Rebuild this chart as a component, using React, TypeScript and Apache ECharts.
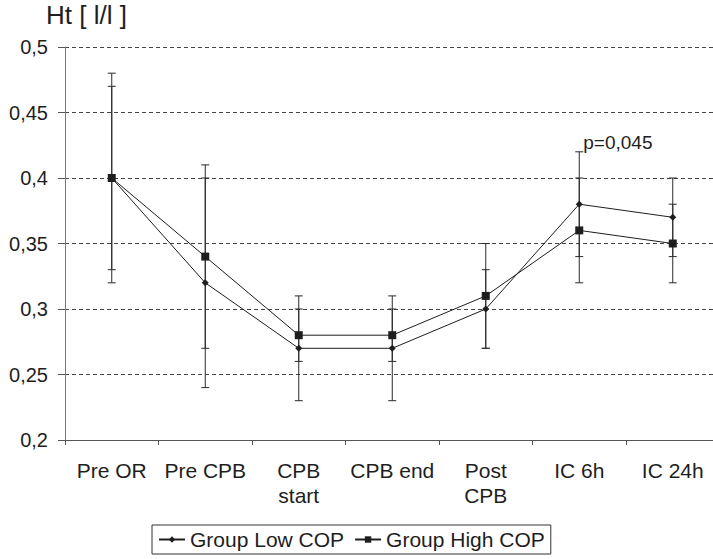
import React, { useEffect, useRef } from "react";
import * as echarts from "echarts";

// Haematocrit (Ht, l/l) per time point, mean ± SD for both groups
const categories = ["Pre OR", "Pre CPB", "CPB\nstart", "CPB end", "Post\nCPB", "IC 6h", "IC 24h"];
const lowMean = [0.4, 0.32, 0.27, 0.27, 0.3, 0.38, 0.37];
const lowErr = [0.08, 0.08, 0.04, 0.04, 0.03, 0.04, 0.03];
const highMean = [0.4, 0.34, 0.28, 0.28, 0.31, 0.36, 0.35];
const highErr = [0.07, 0.07, 0.02, 0.02, 0.04, 0.04, 0.03];
const seriesNames = ["Group Low COP", "Group High COP"];
const yTicks = { min: 0.2, max: 0.5, interval: 0.05 };
const pNote = { text: "p=0,045", index: 5 };

const FONT = "'Liberation Sans', Arial, Helvetica, sans-serif";
const INK = "#1e1e1e";

function errorRows(mean: number[], err: number[]) {
  return mean.map((m, i) => [i, m - err[i], m + err[i]]);
}

function renderErrorBar(params: any, api: any) {
  const i = api.value(0);
  const lo = api.coord([i, api.value(1)]);
  const hi = api.coord([i, api.value(2)]);
  const half = 4;
  const style = { stroke: "#2a2a2a", lineWidth: 1 };
  return {
    type: "group",
    children: [
      { type: "line", shape: { x1: hi[0], y1: hi[1], x2: lo[0], y2: lo[1] }, style },
      { type: "line", shape: { x1: hi[0] - half, y1: hi[1], x2: hi[0] + half, y2: hi[1] }, style },
      { type: "line", shape: { x1: lo[0] - half, y1: lo[1], x2: lo[0] + half, y2: lo[1] }, style },
    ],
  };
}

export default function App() {
  const ref = useRef<HTMLDivElement>(null);

  useEffect(() => {
    if (!ref.current) return;
    const chart = echarts.init(ref.current, undefined, { renderer: "svg" });
    const fmt = (v: number) => String(+v.toFixed(2)).replace(".", ",");

    chart.setOption({
      animation: false,
      backgroundColor: "#ffffff",
      textStyle: { fontFamily: FONT },
      graphic: [
        {
          type: "text",
          left: 46,
          top: 2,
          style: { text: "Ht [ l/l ]", fontSize: 26, fontFamily: FONT, fill: INK },
        },
      ],
      grid: {
        left: 65,
        top: 47,
        right: -6.5,
        bottom: 119,
        outerBoundsMode: "none",
        containLabel: false,
      },
      legend: {
        left: 152,
        top: 525,
        padding: [4, 6, 4, 6],
        borderColor: "#333",
        borderWidth: 1,
        itemGap: 10,
        itemWidth: 26,
        itemHeight: 8,
        textStyle: { fontSize: 21, color: INK, fontFamily: FONT },
        data: seriesNames,
      },
      xAxis: {
        type: "category",
        data: categories,
        boundaryGap: true,
        axisLine: { lineStyle: { color: "#555", width: 1 } },
        axisTick: { show: true, length: 5, lineStyle: { color: "#555" } },
        axisLabel: {
          fontSize: 21,
          lineHeight: 25,
          color: INK,
          margin: 18,
          interval: 0,
          fontFamily: FONT,
        },
        splitLine: { show: false },
      },
      yAxis: {
        type: "value",
        min: yTicks.min,
        max: yTicks.max,
        interval: yTicks.interval,
        axisLine: { show: true, lineStyle: { color: "#777", width: 1 } },
        axisTick: { show: true, length: 7, lineStyle: { color: "#555" } },
        axisLabel: {
          fontSize: 20,
          color: INK,
          margin: 17,
          formatter: fmt,
          fontFamily: FONT,
        },
        splitLine: { show: true, lineStyle: { color: "#444", type: [4, 3], width: 1 } },
      },
      series: [
        {
          type: "custom",
          name: "errLow",
          renderItem: renderErrorBar,
          data: errorRows(lowMean, lowErr),
          z: 1,
          silent: true,
        },
        {
          type: "custom",
          name: "errHigh",
          renderItem: renderErrorBar,
          data: errorRows(highMean, highErr),
          z: 1,
          silent: true,
        },
        {
          type: "line",
          name: seriesNames[0],
          data: lowMean,
          symbol: "diamond",
          symbolSize: 7,
          showAllSymbol: true,
          lineStyle: { color: INK, width: 1 },
          itemStyle: { color: INK },
          z: 3,
          markPoint: {
            symbol: "rect",
            symbolSize: 0,
            silent: true,
            label: {
              show: true,
              formatter: pNote.text,
              position: [4, -19],
              fontSize: 19,
              color: INK,
              fontFamily: FONT,
            },
            data: [
              {
                coord: [pNote.index, lowMean[pNote.index] + lowErr[pNote.index]],
              },
            ],
          },
        },
        {
          type: "line",
          name: seriesNames[1],
          data: highMean,
          symbol: "rect",
          symbolSize: 8,
          showAllSymbol: true,
          lineStyle: { color: INK, width: 1 },
          itemStyle: { color: INK },
          z: 3,
        },
      ],
    });

    return () => chart.dispose();
  }, []);

  return (
    <div
      ref={ref}
      style={{ position: "fixed", left: 0, top: 0, width: 713, height: 559, background: "#fff" }}
    />
  );
}
